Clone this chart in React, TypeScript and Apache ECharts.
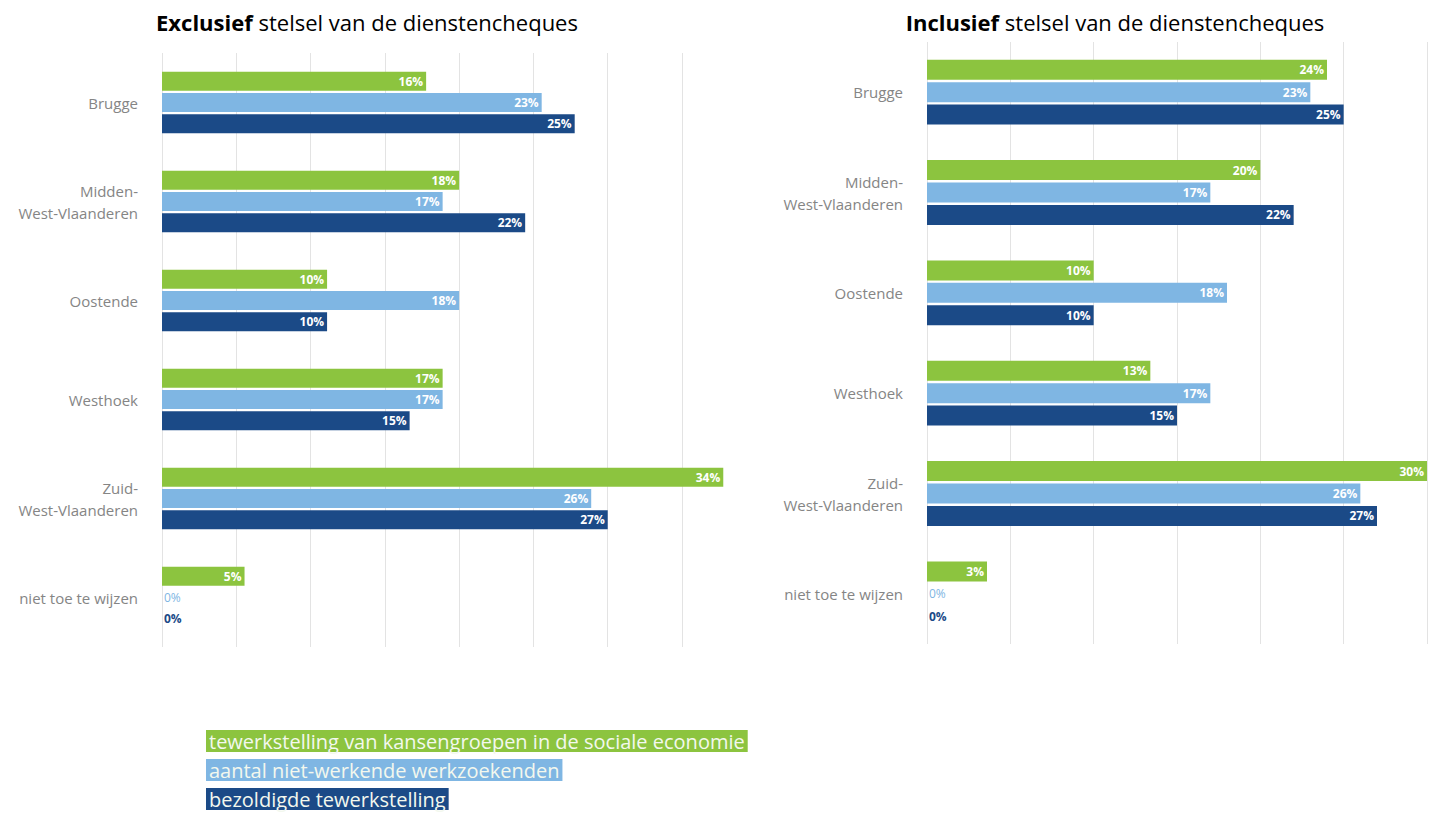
import React, { useEffect, useRef } from "react";
import * as echarts from "echarts";

const categories = [
  "Brugge",
  "Midden-\nWest-Vlaanderen",
  "Oostende",
  "Westhoek",
  "Zuid-\nWest-Vlaanderen",
  "niet toe te wijzen",
];

const seriesNames = [
  "tewerkstelling van kansengroepen in de sociale economie",
  "aantal niet-werkende werkzoekenden",
  "bezoldigde tewerkstelling",
];

const colors = ["#8cc43f", "#7fb6e3", "#1b4a87"];

// Exclusief stelsel
const exclKansengroepen = [16, 18, 10, 17, 34, 5];
const exclWerkzoekenden = [23, 17, 18, 17, 26, 0];
const exclBezoldigd = [25, 22, 10, 15, 27, 0];

// Inclusief stelsel
const inclKansengroepen = [24, 20, 10, 13.4, 30, 3.6];
const inclWerkzoekenden = [23, 17, 18, 17, 26, 0];
const inclBezoldigd = [25, 22, 10, 15, 27, 0];

const titles = [
  { bold: "Exclusief", rest: " stelsel van de dienstencheques" },
  { bold: "Inclusief", rest: " stelsel van de dienstencheques" },
];

const FONT = "'Open Sans', 'Noto Sans', sans-serif";

function makeSeries(values: number[], idx: number, gridIdx: number, barWidth: number) {
  const color = colors[idx];
  return {
    type: "bar",
    name: seriesNames[idx],
    xAxisIndex: gridIdx,
    yAxisIndex: gridIdx,
    barWidth,
    barGap: "12%",
    clip: false,
    itemStyle: { color },
    label: {
      show: true,
      position: "insideRight",
      distance: 3,
      color: "#ffffff",
      fontWeight: "bold",
      fontSize: 12,
      fontFamily: FONT,
      formatter: (p: any) => `${Math.floor(p.value)}%`,
    },
    data: values.map((v) =>
      v === 0
        ? {
            value: v,
            label: {
              position: "right",
              distance: 2,
              color,
              fontWeight: idx === 2 ? "bold" : "normal",
            },
          }
        : v
    ),
  };
}

export default function App() {
  const ref = useRef<HTMLDivElement>(null);

  useEffect(() => {
    if (!ref.current) return;
    const chart = echarts.init(ref.current, null, { renderer: "svg" });

    const yAxisBase = {
      type: "category",
      data: categories,
      inverse: true,
      axisLine: { show: false },
      axisTick: { show: false },
      axisLabel: {
        color: "#858585",
        fontSize: 15,
        fontFamily: FONT,
        margin: 24,
        lineHeight: 22,
        align: "right",
      },
    };

    const splitLine = { show: true, lineStyle: { color: "#e3e3e3", width: 1 } };

    const legendGraphics = seriesNames.map((name, i) => ({
      type: "text",
      left: 206,
      top: 730 + i * 29,
      style: {
        text: name,
        fill: "#f3f8ee",
        font: `20px ${FONT}`,
        lineHeight: 22,
        backgroundColor: colors[i],
        padding: [0, 3, 0, 3],
      },
    }));

    chart.setOption({
      animation: false,
      backgroundColor: "#ffffff",
      title: titles.map((t, i) => ({
        text: `{b|${t.bold}}{r|${t.rest}}`,
        left: i === 0 ? 362 : 1110,
        top: 6,
        textAlign: "center",
        textStyle: {
          rich: {
            b: { fontWeight: "bold", fontSize: 22, color: "#000", fontFamily: FONT },
            r: { fontWeight: "normal", fontSize: 22, color: "#000", fontFamily: FONT },
          },
        },
      })),
      grid: [
        { left: 162, top: 53, width: 520, height: 594 },
        { left: 927, top: 42, width: 500, height: 602 },
      ],
      xAxis: [
        {
          type: "value",
          gridIndex: 0,
          min: 0,
          max: 31.5,
          interval: 4.5,
          axisLabel: { show: false },
          axisLine: { show: false },
          axisTick: { show: false },
          splitLine,
        },
        {
          type: "value",
          gridIndex: 1,
          min: 0,
          max: 30,
          interval: 5,
          axisLabel: { show: false },
          axisLine: { show: false },
          axisTick: { show: false },
          splitLine,
        },
      ],
      yAxis: [
        { ...yAxisBase, gridIndex: 0 },
        { ...yAxisBase, gridIndex: 1 },
      ],
      series: [
        makeSeries(exclKansengroepen, 0, 0, 19),
        makeSeries(exclWerkzoekenden, 1, 0, 19),
        makeSeries(exclBezoldigd, 2, 0, 19),
        makeSeries(inclKansengroepen, 0, 1, 20),
        makeSeries(inclWerkzoekenden, 1, 1, 20),
        makeSeries(inclBezoldigd, 2, 1, 20),
      ],
      graphic: legendGraphics,
    });

    return () => chart.dispose();
  }, []);

  return (
    <div
      ref={ref}
      style={{ position: "fixed", left: 0, top: 0, width: 1441, height: 817 }}
    />
  );
}
